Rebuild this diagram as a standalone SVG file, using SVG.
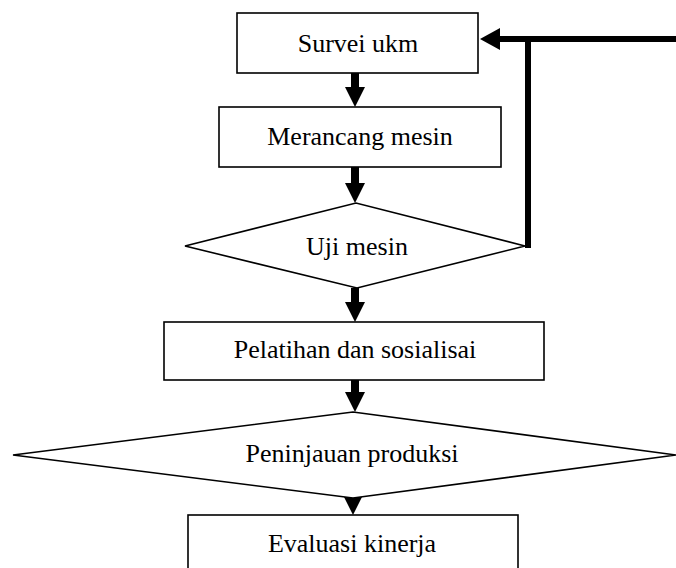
<svg xmlns="http://www.w3.org/2000/svg" width="676" height="568" viewBox="0 0 676 568">
  <style>
    .shape { fill: #ffffff; stroke: #000000; stroke-width: 1.6; }
    .label { font-family: "Liberation Serif", "Times New Roman", serif; font-size: 26px; fill: #000000; text-anchor: middle; }
    .flow { stroke: #000000; stroke-width: 8; fill: none; }
    .loop { stroke: #000000; stroke-width: 6; fill: none; }
  </style>
  <defs>
    <marker id="head" markerUnits="userSpaceOnUse" viewBox="0 0 20 20" markerWidth="20" markerHeight="20" refX="0" refY="10" orient="auto">
      <path d="M0,0 L20,10 L0,20 Z" fill="#000000"/>
    </marker>
    <marker id="head2" markerUnits="userSpaceOnUse" viewBox="0 0 20 22" markerWidth="20" markerHeight="22" refX="0" refY="11" orient="auto">
      <path d="M0,0 L20,11 L0,22 Z" fill="#000000"/>
    </marker>
  </defs>

  <g id="connectors">
    <line class="flow" x1="355" y1="73" x2="355" y2="87" marker-end="url(#head)"/>
    <line class="flow" x1="355" y1="167" x2="355" y2="183" marker-end="url(#head)"/>
    <line class="flow" x1="355" y1="288" x2="355" y2="302" marker-end="url(#head)"/>
    <line class="flow" x1="355" y1="380" x2="355" y2="392" marker-end="url(#head)"/>
    <line class="flow" x1="353" y1="488" x2="353" y2="495" marker-end="url(#head)"/>
    <line class="loop" x1="528" y1="248" x2="528" y2="36"/>
    <line class="loop" x1="676" y1="39" x2="500" y2="39" marker-end="url(#head2)"/>
  </g>

  <g id="survei">
    <rect class="shape" x="237" y="13" width="241" height="60"/>
    <text class="label" x="358" y="52">Survei ukm</text>
  </g>
  <g id="merancang">
    <rect class="shape" x="219" y="107" width="282" height="60"/>
    <text class="label" x="360" y="145">Merancang mesin</text>
  </g>
  <g id="uji">
    <polygon class="shape" points="185,246 356,203 525,246 357,288"/>
    <text class="label" x="357" y="255">Uji mesin</text>
  </g>
  <g id="pelatihan">
    <rect class="shape" x="164" y="322" width="380" height="58"/>
    <text class="label" x="355" y="358">Pelatihan dan sosialisai</text>
  </g>
  <g id="peninjauan">
    <polygon class="shape" points="13,455 353,412 676,455 353,498"/>
    <text class="label" x="352" y="462">Peninjauan produksi</text>
  </g>
  <g id="evaluasi">
    <rect class="shape" x="188" y="515" width="330" height="60"/>
    <text class="label" x="352" y="552">Evaluasi kinerja</text>
  </g>
</svg>
